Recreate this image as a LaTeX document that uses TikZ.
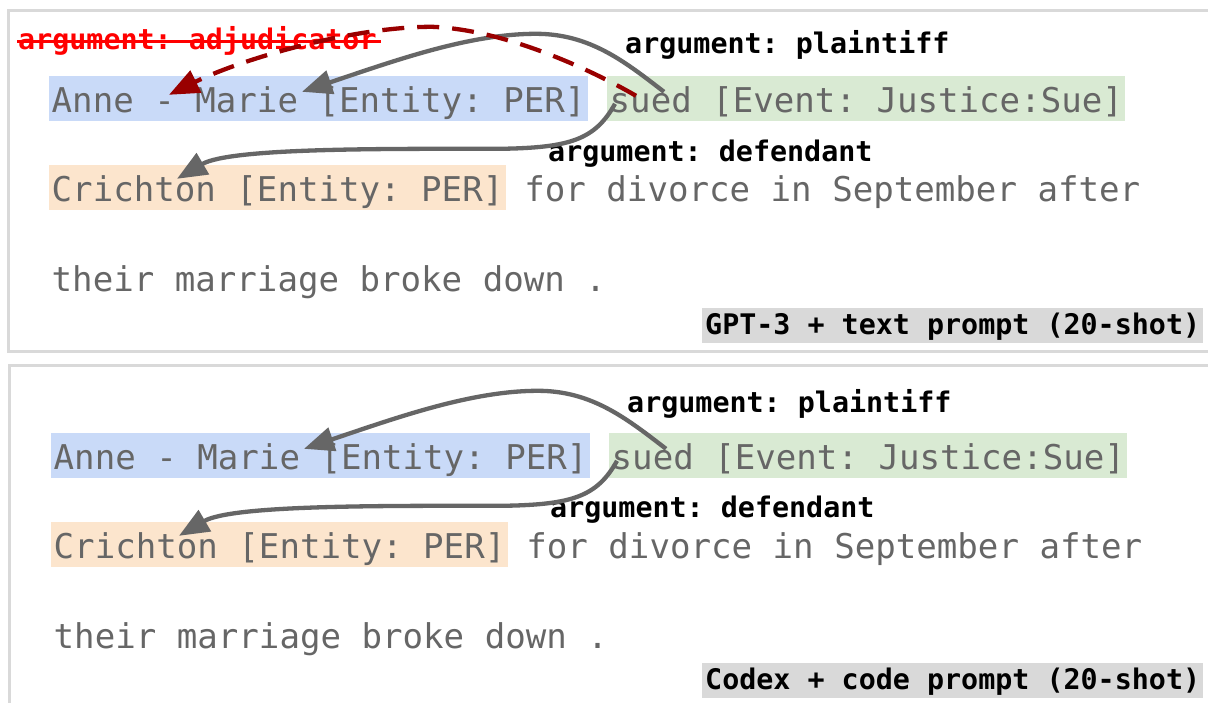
\documentclass[tikz,border=0pt]{standalone}
\usepackage{fontspec}
\setmonofont{DejaVu Sans Mono}
\usetikzlibrary{arrows.meta}

\definecolor{txtgray}{HTML}{666666}
\definecolor{framegray}{HTML}{D9D9D9}
\definecolor{entblue}{HTML}{C9DAF8}
\definecolor{evgreen}{HTML}{D9EAD3}
\definecolor{entorange}{HTML}{FCE5CD}
\definecolor{tagbg}{HTML}{D9D9D9}
\definecolor{argred}{HTML}{990000}
\definecolor{strikered}{HTML}{FF0000}

\tikzset{
  sent/.style={anchor=base west, inner xsep=2.5pt, inner ysep=0pt,
    text height=36pt, text depth=9pt, text=txtgray,
    font=\ttfamily\fontsize{34.1}{40}\selectfont},
  entper/.style={sent, fill=entblue},
  entevt/.style={sent, fill=evgreen},
  entdef/.style={sent, fill=entorange},
  lbl/.style={anchor=base west, inner sep=0pt, text=black,
    font=\ttfamily\bfseries\fontsize{28.35}{32}\selectfont},
  tagbox/.style={lbl, fill=tagbg, inner xsep=3pt, inner ysep=0pt,
    text height=26pt, text depth=9pt},
  arc/.style={draw=txtgray, line width=4.3pt,
    -{Triangle[length=30pt,width=24pt]}},
  wrongarc/.style={draw=argred, line width=4.3pt,
    dash pattern=on 22pt off 13pt,
    -{Triangle[length=30pt,width=24pt]}},
  panel/.style={draw=framegray, line width=3pt},
}

\begin{document}
\begin{tikzpicture}[x=1pt, y=-1pt]
  \useasboundingbox (0,0) rectangle (1208,702);
  \clip (0,0) rectangle (1208,702);
  \fill[white] (0,0) rectangle (1208,702);

  % ---------- upper panel: GPT-3 with text prompt ----------
  \draw[panel] (8.5,10) rectangle (1230,351);

  \node[entper] (anneA) at (49,112) {Anne - Marie [Entity: PER]};
  \node[entevt] (suedA) at (607,112) {sued [Event: Justice:Sue]};
  \node[entdef] (crichA) at (49,201) {Crichton [Entity: PER]};
  \node[sent]   (restA) at (521.65,201) {for divorce in September after};
  \node[sent]   (lastA) at (49,291) {their marriage broke down .};

  \node[lbl] (plA) at (625,53) {argument: plaintiff};
  \node[lbl] (dfA) at (548,161) {argument: defendant};
  \node[lbl, text=strikered] (adj) at (18,49) {argument: adjudicator};
  \draw[strikered, line width=3pt]
    ([shift={(-1,-8)}]adj.base west) -- ([shift={(4,-8)}]adj.base east);

  \node[tagbox] (tagA) at (702,334) {GPT-3 + text prompt (20-shot)};

  % plaintiff (correct)
  \draw[arc] ([shift={(57,16)}]suedA.north west)
    .. controls +(-39,-30) and +(54,0) .. ++(-128,-58)
    .. controls +(-66,0) and +(95,-32) .. ([shift={(253,16)}]anneA.north west);
  % adjudicator (wrong)
  \draw[wrongarc] ([shift={(29,20)}]suedA.north west)
    .. controls +(-36,-21) and +(78,3) .. ++(-204,-69)
    .. controls +(-82,0) and +(71,-35) .. ([shift={(120,19)}]anneA.north west);
  % defendant
  \draw[arc] ([shift={(8,28)}]suedA.north west)
    .. controls +(-20,36) and +(70,-1) .. ++(-115,45)
    .. controls +(-120,0) and +(53,-31) .. ([shift={(128,14)}]crichA.north west);

  % ---------- lower panel: Codex with code prompt ----------
  \draw[panel] (9,365.5) rectangle (1230,720);

  \begin{scope}[shift={(2,357)}]
    \node[entper] (anneB) at (49,112) {Anne - Marie [Entity: PER]};
    \node[entevt] (suedB) at (607,112) {sued [Event: Justice:Sue]};
    \node[entdef] (crichB) at (49,201) {Crichton [Entity: PER]};
    \node[sent]   (restB) at (521.65,201) {for divorce in September after};
    \node[sent]   (lastB) at (49,291) {their marriage broke down .};

    \node[lbl] (plB) at (625,55) {argument: plaintiff};
    \node[lbl] (dfB) at (548,160) {argument: defendant};

    \draw[arc] ([shift={(57,16)}]suedB.north west)
      .. controls +(-39,-30) and +(54,0) .. ++(-128,-58)
      .. controls +(-66,0) and +(95,-32) .. ([shift={(253,16)}]anneB.north west);
    \draw[arc] ([shift={(8,28)}]suedB.north west)
      .. controls +(-20,36) and +(70,-1) .. ++(-115,45)
      .. controls +(-120,0) and +(53,-31) .. ([shift={(128,14)}]crichB.north west);
  \end{scope}

  \node[tagbox] (tagB) at (702,689) {Codex + code prompt (20-shot)};
\end{tikzpicture}
\end{document}
